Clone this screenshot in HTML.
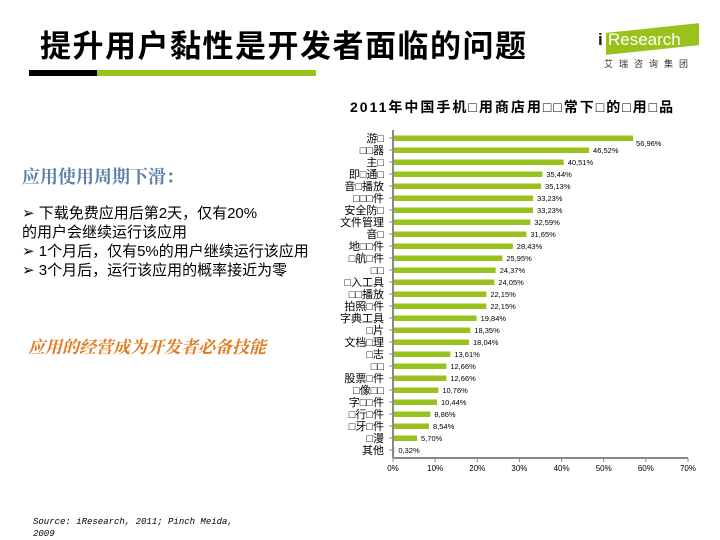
<!DOCTYPE html>
<html><head><meta charset="utf-8"><style>
body{margin:0;width:720px;height:540px;background:#fff;position:relative;overflow:hidden;font-family:"Liberation Sans","Noto Sans CJK SC",sans-serif}
.a{position:absolute;white-space:nowrap}
</style></head><body>
<div class="a" style="left:40px;top:21px;font-size:31px;font-weight:bold;color:#000;letter-spacing:1.5px">提升用户黏性是开发者面临的问题</div>
<div class="a" style="left:29px;top:70px;width:68px;height:6px;background:#000"></div>
<div class="a" style="left:97px;top:70px;width:219px;height:6px;background:#99c31c"></div>
<div class="a" style="left:598px;top:30px;width:100px;height:40px">
 <div class="a" style="left:0;top:0;font-size:17px;color:#1a1a1a;font-weight:bold">i</div>
 <div class="a" style="left:8px;top:-2px;width:93px;height:22px;background:#99c31c;transform:skewY(-6deg)"></div>
 <div class="a" style="left:10px;top:0;font-size:17px;color:#fff">Research</div>
 <div class="a" style="left:6px;top:27px;font-size:9px;color:#333;letter-spacing:6px">艾瑞咨询集团</div>
</div>
<div class="a" style="left:350px;top:97px;font-size:14px;font-weight:bold;letter-spacing:2px">2011年中国手机□用商店用□□常下□的□用□品</div>
<div class="a" style="left:22px;top:163px;font-size:18px;font-weight:bold;color:#5b7faa;font-family:'Noto Serif CJK SC',serif">应用使用周期下滑：</div>
<div class="a" style="left:22px;top:204px;font-size:15px;line-height:19px;color:#000">➢ 下载免费应用后第2天，仅有20%<br>的用户会继续运行该应用<br>➢ 1个月后，仅有5%的用户继续运行该应用<br>➢ 3个月后，运行该应用的概率接近为零</div>
<div class="a" style="left:28px;top:333px;font-size:17px;font-weight:bold;font-style:italic;color:#e07b20;font-family:'Noto Serif CJK SC',serif">应用的经营成为开发者必备技能</div>
<div class="a" style="left:33px;top:516px;font-size:9px;line-height:12px;font-family:'Liberation Mono',monospace;font-style:italic">Source: iResearch, 2011; Pinch  Meida,<br>2009</div>
<svg id="c" class="a" style="left:0;top:0" width="720" height="540"></svg>
<script>
const categories=["游□","□□器","主□","即□通□","音□播放","□□□件","安全防□","文件管理","音□","地□□件","□航□件","□□","□入工具","□□播放","拍照□件","字典工具","□片","文档□理","□志","□□","股票□件","□像□□","字□□件","□行□件","□牙□件","□漫","其他"];
const values=[56.96,46.52,40.51,35.44,35.13,33.23,33.23,32.59,31.65,28.43,25.95,24.37,24.05,22.15,22.15,19.84,18.35,18.04,13.61,12.66,12.66,10.76,10.44,8.86,8.54,5.70,0.32];
const ticks=[0,10,20,30,40,50,60,70];
const svg=document.getElementById('c');const NS='http://www.w3.org/2000/svg';
const x0=393,x1=688,xmax=70,yTop=138,yBot=450;
const X=v=>x0+(x1-x0)*v/xmax;
const step=(yBot-yTop)/(categories.length-1);
const Y=i=>yTop+i*step;
function mk(t,a){const e=document.createElementNS(NS,t);for(const k in a)e.setAttribute(k,a[k]);svg.appendChild(e);return e;}
const ax=mk('line',{x1:x0,y1:yTop-8,x2:x0,y2:yBot+8,stroke:'#888','stroke-width':2});


const bx=mk('line',{x1:x0,y1:yBot+8,x2:x1,y2:yBot+8,stroke:'#888','stroke-width':2});


ticks.forEach(t=>{
 const tl=mk('line',{x1:X(t),y1:yBot+8,x2:X(t),y2:yBot+12,stroke:'#888'});
 
 
 const tx=mk('text',{x:X(t),y:yBot+21,'font-size':8,'text-anchor':'middle'});tx.textContent=t+'%';
 
 
});
categories.forEach((c,i)=>{
 const y=Y(i);
 const tk=mk('line',{x1:x0-4,y1:y,x2:x0,y2:y,stroke:'#888'});
 
 
 const r=mk('rect',{x:x0+1,y:y-2.5,width:X(values[i])-x0-1,height:5.5,fill:'#99c31c'});
 
 
 const l=mk('text',{x:x0-9,y:y+4,'font-size':11,'text-anchor':'end'});l.textContent=c;
 
 
 const v=mk('text',{x:X(values[i])+(i==0?3:4),y:i==0?y+8:y+3,'font-size':7.5});
 v.textContent=values[i].toFixed(2).replace('.',',')+'%';
 
 
});
</script>
</body></html>
